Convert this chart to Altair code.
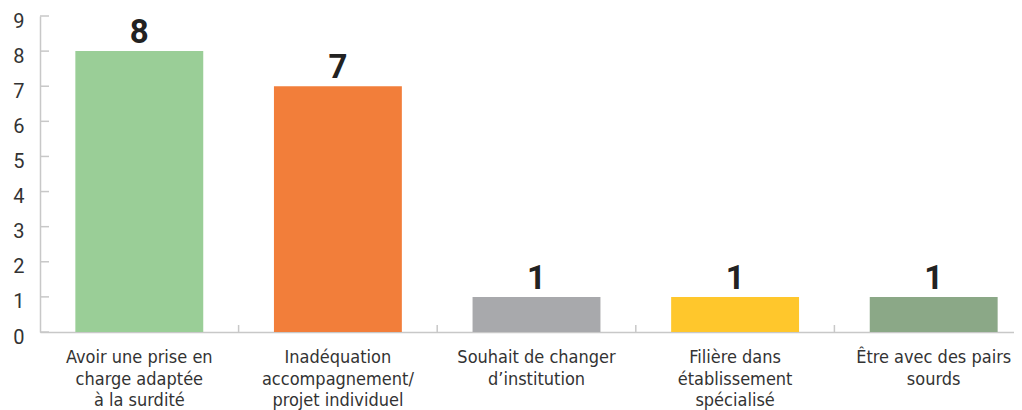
import altair as alt
import pandas as pd

categories = [
    "Avoir une prise en\ncharge adaptée\nà la surdité",
    "Inadéquation\naccompagnement/\nprojet individuel",
    "Souhait de changer\nd’institution",
    "Filière dans\nétablissement\nspécialisé",
    "Être avec des pairs\nsourds",
]
values = [8, 7, 1, 1, 1]
colors = ["#9ACE97", "#F27E3A", "#A8A9AC", "#FFC72C", "#8BA887"]
y_ticks = list(range(10))

W, H = 974, 316
STEP = 198.6  # pixel width of one category slot
FONT = "Roboto"
LABEL_FONT = "'Liberation Sans Narrow', 'DejaVu Sans Condensed', Roboto"
AXIS_COLOR = "#c8c8c8"
HALF_BAR = 0.322

df = pd.DataFrame({"cat": categories, "value": values, "color": colors,
                   "idx": list(range(len(categories)))})
bounds = pd.DataFrame({"b": [i + 0.5 for i in range(len(categories) - 1)]})
ticks_df = pd.DataFrame({"t": y_ticks})

xscale = alt.Scale(domain=[-0.5, -0.5 + W / STEP], nice=False, zero=False, padding=0)
yscale = alt.Scale(domain=[0, 9], nice=False, padding=0)

x_axis = alt.Axis(title=None, labels=False, ticks=False, grid=False,
                  domainColor=AXIS_COLOR, domainWidth=1.5)
y_axis = alt.Axis(title=None, values=y_ticks, ticks=False, grid=False,
                  domainColor=AXIS_COLOR, domainWidth=1.5,
                  labelFont=FONT, labelFontSize=20, labelColor="#333333",
                  labelPadding=16, labelOffset=5, labelBaseline="middle")

bars = alt.Chart(df).transform_calculate(
    x0=f"datum.idx - {HALF_BAR}", x1=f"datum.idx + {HALF_BAR}"
).mark_bar().encode(
    x=alt.X("x0:Q", scale=xscale, axis=x_axis),
    x2="x1:Q",
    y=alt.Y("value:Q", scale=yscale, axis=y_axis),
    y2=alt.datum(0),
    color=alt.Color("color:N", scale=None),
)

value_labels = alt.Chart(df).mark_text(
    baseline="alphabetic", dy=-8, fontSize=33, fontWeight="bold",
    font=FONT, color="#222222"
).encode(
    x=alt.X("idx:Q", scale=xscale, axis=x_axis),
    y=alt.Y("value:Q", scale=yscale, axis=y_axis),
    text="value:Q",
)

cat_labels = alt.Chart(df).mark_text(
    baseline="top", align="center", lineBreak="\n", lineHeight=21.5,
    fontSize=18, font=LABEL_FONT, color="#333333"
).encode(
    x=alt.X("idx:Q", scale=xscale, axis=x_axis),
    y=alt.value(H + 17),
    text="cat:N",
)

y_tick_rules = alt.Chart(ticks_df).mark_rule(color=AXIS_COLOR, strokeWidth=1.5).encode(
    y=alt.Y("t:Q", scale=yscale, axis=y_axis),
    x=alt.value(0),
    x2=alt.value(9),
)

x_tick_rules = alt.Chart(bounds).mark_rule(color=AXIS_COLOR, strokeWidth=1.5).encode(
    x=alt.X("b:Q", scale=xscale, axis=x_axis),
    y=alt.value(H - 7),
    y2=alt.value(H),
)

chart = alt.layer(bars, y_tick_rules, x_tick_rules, value_labels, cat_labels).properties(
    width=W, height=H,
    autosize=alt.AutoSizeParams(type="none"),
    padding={"left": 32, "top": 8, "right": 0, "bottom": 80},
).configure_view(stroke=None)

chart.save("out.html", embed_options={"renderer": "svg", "actions": False})
